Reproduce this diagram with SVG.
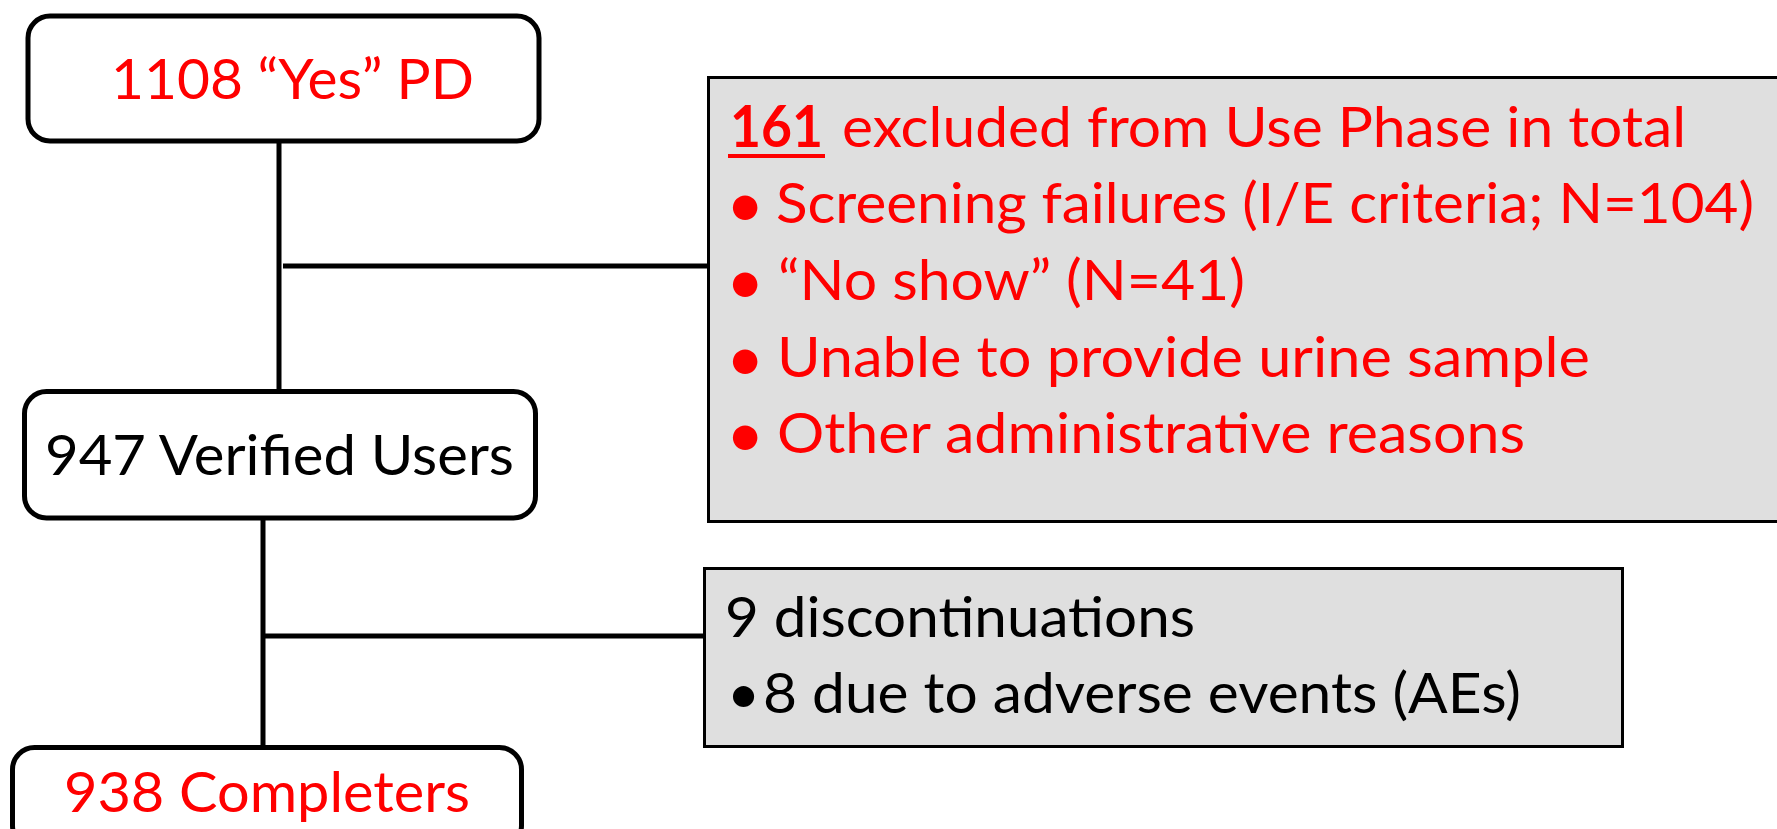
<svg xmlns="http://www.w3.org/2000/svg" width="1777" height="829" viewBox="0 0 1777 829">
<style>
.rbox{fill:#ffffff;stroke:#000000;stroke-width:5}
.gbox{fill:#dfdfdf;stroke:#000000;stroke-width:3}
.conn{stroke:#000000;stroke-width:5;fill:none}
.t{font-family:Lato,"Open Sans","Liberation Sans",sans-serif;font-size:57px}
.bul{font-family:Lato,"Open Sans","Liberation Sans",sans-serif;font-size:66px}
.red{fill:#ff0000}
.blk{fill:#000000}
.bold{font-weight:bold}
</style>
<rect width="1777" height="829" fill="#ffffff"/>
<g id="connectors">
<line class="conn" x1="279" y1="141" x2="279" y2="391"/>
<line class="conn" x1="283" y1="266" x2="708" y2="266"/>
<line class="conn" x1="263" y1="518" x2="263" y2="748"/>
<line class="conn" x1="263" y1="636" x2="705" y2="636"/>
</g>
<g id="node-yes-pd">
<rect class="rbox" x="28" y="16" width="511" height="125" rx="22"/>
<text class="t red" x="111" y="99" textLength="363" lengthAdjust="spacingAndGlyphs">1108 “Yes” PD</text>
</g>
<g id="node-verified">
<rect class="rbox" x="24.5" y="391.5" width="511" height="126.5" rx="22"/>
<text class="t blk" x="45" y="475" textLength="469" lengthAdjust="spacingAndGlyphs">947 Verified Users</text>
</g>
<g id="node-completers">
<rect class="rbox" x="12.5" y="747.5" width="509" height="100" rx="22"/>
<text class="t red" x="64" y="812" textLength="406" lengthAdjust="spacingAndGlyphs">938 Completers</text>
</g>
<g id="node-excluded">
<rect class="gbox" x="708.5" y="77.5" width="1100" height="444"/>
<text class="t red bold" x="730" y="147" textLength="93" lengthAdjust="spacingAndGlyphs">161</text>
<line x1="728" y1="156" x2="825" y2="156" stroke="#ff0000" stroke-width="4"/>
<text class="t red" x="842" y="147" textLength="844" lengthAdjust="spacingAndGlyphs">excluded from Use Phase in total</text>
<text class="bul red" x="726" y="227">•</text>
<text class="t red" x="776" y="223" textLength="978" lengthAdjust="spacingAndGlyphs">Screening failures (I/E criteria; N=104)</text>
<text class="bul red" x="726" y="304">•</text>
<text class="t red" x="778" y="300" textLength="467" lengthAdjust="spacingAndGlyphs">“No show” (N=41)</text>
<text class="bul red" x="726" y="381">•</text>
<text class="t red" x="777" y="377" textLength="813" lengthAdjust="spacingAndGlyphs">Unable to provide urine sample</text>
<text class="bul red" x="726" y="457">•</text>
<text class="t red" x="777" y="453" textLength="748" lengthAdjust="spacingAndGlyphs">Other administrative reasons</text>
</g>
<g id="node-discontinuations">
<rect class="gbox" x="704.5" y="568.5" width="918" height="178"/>
<text class="t blk" x="725" y="637" font-size="52" textLength="470" lengthAdjust="spacingAndGlyphs">9 discontinuations</text>
<text class="t blk" x="727" y="713" font-size="52">•</text>
<text class="t blk" x="763" y="713" font-size="52" textLength="758" lengthAdjust="spacingAndGlyphs">8 due to adverse events (AEs)</text>
</g>
</svg>
